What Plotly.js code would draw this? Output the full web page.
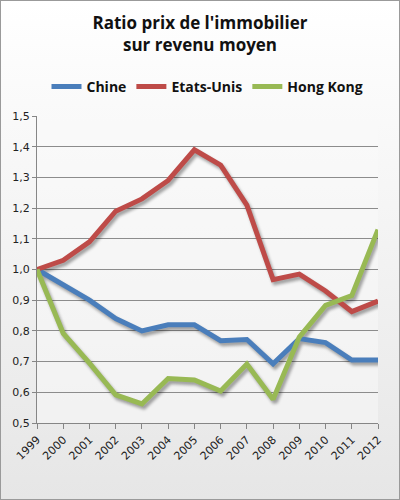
<!DOCTYPE html>
<html>
<head>
<meta charset="utf-8">
<script src="https://cdn.plot.ly/plotly-3.0.1.min.js"></script>
<style>
  html, body { margin: 0; padding: 0; }
  #chart {
    width: 398px;
    height: 498px;
    border: 1px solid #9a9a9a;
    background: linear-gradient(#ffffff 0%, #f4f4f4 45%, #e6e6e6 100%);
  }
  #chart .scatterlayer { filter: drop-shadow(2px 3px 1.5px rgba(0,0,0,0.35)); }
</style>
</head>
<body>
<div id="chart"></div>
<script>
// years on the x axis
const years = [1999, 2000, 2001, 2002, 2003, 2004, 2005, 2006, 2007, 2008, 2009, 2010, 2011, 2012];

// ratio house price / average income, base 1999 = 1
const chine = [1.0, 0.95, 0.90, 0.84, 0.80, 0.82, 0.82, 0.768, 0.772, 0.693, 0.775, 0.762, 0.705, 0.705];
const etatsUnis = [1.0, 1.03, 1.09, 1.19, 1.23, 1.29, 1.39, 1.34, 1.21, 0.967, 0.985, 0.93, 0.863, 0.897];
const hongKong = [1.0, 0.792, 0.695, 0.592, 0.562, 0.645, 0.64, 0.604, 0.692, 0.577, 0.78, 0.883, 0.915, 1.13];

const seriesNames = ["Chine", "Etats-Unis", "Hong Kong"];
const yTicks = [0.5, 0.6, 0.7, 0.8, 0.9, 1.0, 1.1, 1.2, 1.3, 1.4, 1.5];

const colors = ["#4a7ebb", "#be4b48", "#98b954"];
const values = [chine, etatsUnis, hongKong];

const data = values.map((v, i) => ({
  x: years,
  y: v,
  name: seriesNames[i],
  type: "scatter",
  mode: "lines",
  line: { color: colors[i], width: 5, shape: "linear" },
  hoverinfo: "none",
}));

const layout = {
  width: 398,
  height: 498,
  margin: { t: 115, b: 76, l: 36, r: 21 },
  paper_bgcolor: "rgba(0,0,0,0)",
  plot_bgcolor: "rgba(250,250,250,0.5)",
  separators: ", ",
  font: { family: "DejaVu Sans, Verdana, sans-serif", size: 11, color: "#222" },
  title: {
    text: "Ratio prix de l'immobilier<br>sur revenu moyen",
    font: { family: "Open Sans, sans-serif", size: 17, color: "#111", weight: 700, lineposition: "none" },
    x: 0.5,
    xanchor: "center",
    yref: "container",
    y: 0.943,
    yanchor: "middle",
  },
  showlegend: true,
  legend: {
    orientation: "h",
    x: 0.5,
    xanchor: "center",
    y: 1.095,
    yanchor: "middle",
    font: { family: "Open Sans, sans-serif", size: 14, color: "#111", weight: 700 },
    itemwidth: 30,
    bgcolor: "rgba(0,0,0,0)",
  },
  xaxis: {
    type: "linear",
    range: [1999, 2012],
    tickvals: years,
    ticktext: years.map(String),
    tickangle: -45,
    showgrid: false,
    showline: true,
    linecolor: "#868686",
    linewidth: 1,
    ticks: "outside",
    ticklen: 5,
    tickcolor: "#868686",
    zeroline: false,
    fixedrange: true,
  },
  yaxis: {
    range: [0.5, 1.5],
    tickvals: yTicks,
    tickformat: ".1f",
    showgrid: true,
    gridcolor: "#8c8c8c",
    gridwidth: 1,
    showline: true,
    linecolor: "#868686",
    ticks: "outside",
    ticklen: 4,
    tickcolor: "#868686",
    zeroline: false,
    fixedrange: true,
  },
};

Plotly.newPlot("chart", data, layout, { displayModeBar: false, staticPlot: true });
</script>
</body>
</html>
